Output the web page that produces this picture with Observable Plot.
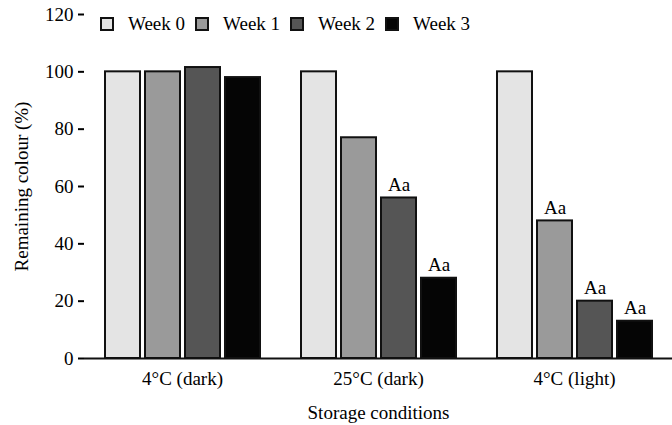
<!DOCTYPE html>
<html><head><meta charset="utf-8">
<script src="https://cdn.jsdelivr.net/npm/d3@7"></script>
<script src="https://cdn.jsdelivr.net/npm/@observablehq/plot@0.6"></script>
<style>
body{margin:0;background:#fff;font-family:"Liberation Serif","Times New Roman",serif;}
#wrap{position:relative;width:672px;height:425px;}
#legend{position:absolute;left:100px;top:14px;display:flex;align-items:center;font-size:19px;color:#000;line-height:19px;}
.item{display:flex;align-items:center;margin-right:10px}
.sw{width:10px;height:10px;border:2px solid #111;margin-right:14px}
</style></head><body><div id="wrap"><div id="legend"></div></div>
<script>
const conditions = ["4°C (dark)", "25°C (dark)", "4°C (light)"];
const weeks = ["Week 0", "Week 1", "Week 2", "Week 3"];
const colours = ["#e4e4e4", "#9a9a9a", "#555555", "#050505"];
const values4Dark = [100, 100, 101.5, 98];
const values25Dark = [100, 77, 56, 28];
const values4Light = [100, 48, 20, 13];
const letters4Dark = ["", "", "", ""];
const letters25Dark = ["", "", "Aa", "Aa"];
const letters4Light = ["", "Aa", "Aa", "Aa"];
const yTicks = [0, 20, 40, 60, 80, 100, 120];

const seriesValues = [values4Dark, values25Dark, values4Light];
const seriesLetters = [letters4Dark, letters25Dark, letters4Light];
const rows = [];
conditions.forEach((c, i) => weeks.forEach((w, j) => rows.push({condition: c, week: w, value: seriesValues[i][j], letter: seriesLetters[i][j]})));

const edges = [{condition: conditions[0], left: true, right: true}, {condition: conditions[1], left: false, right: true}];

const chart = Plot.plot({
  width: 672, height: 425,
  marginLeft: 83, marginRight: 0, marginTop: 14, marginBottom: 67,
  style: {fontFamily: "'Liberation Serif', 'Times New Roman', serif", fontSize: "19px", color: "#000", background: "#fff", overflow: "visible"},
  fx: {domain: conditions, paddingInner: 0, paddingOuter: 0, label: null},
  x: {domain: weeks, paddingInner: 0.125, paddingOuter: 0.5, axis: null},
  y: {domain: [0, 120], label: null},
  color: {domain: weeks, range: colours},
  marks: [
    Plot.barY(rows, {fx: "condition", x: "week", y: "value", fill: "week", stroke: "#111", strokeWidth: 2}),
    Plot.text(rows.filter(d => d.letter), {fx: "condition", x: "week", y: "value", text: "letter", lineAnchor: "bottom", dy: -7, fill: "#000"}),
    Plot.ruleY([0], {stroke: "#111", strokeWidth: 2}),
    Plot.axisY({ticks: yTicks, tickSize: 6, tickPadding: 5, strokeWidth: 2, label: "Remaining colour (%)", labelAnchor: "center", labelArrow: "none", labelOffset: 70}),
    Plot.axisFx({anchor: "bottom", tickSize: 0, tickPadding: 13, label: "Storage conditions", labelAnchor: "center", labelArrow: "none", labelOffset: 60}),
    Plot.dot(edges, {fx: "condition", render: (index, scales) => {
      const g = d3.create("svg:g").attr("stroke", "#111").attr("stroke-width", 2);
      const [x0, x1] = scales.x.range();
      const y0 = scales.y(0), yTop = scales.y(120);
      for (const i of index) {
        const e = edges[i];
        if (e.left) g.append("line").attr("x1", x0).attr("x2", x0).attr("y1", yTop).attr("y2", y0 + 7);
        if (e.right) g.append("line").attr("x1", x1).attr("x2", x1).attr("y1", y0).attr("y2", y0 + 7);
      }
      return g.node();
    }})
  ]
});
document.getElementById("wrap").appendChild(chart);

const legend = d3.select("#legend");
weeks.forEach((w, j) => {
  const it = legend.append("div").attr("class", "item");
  it.append("div").attr("class", "sw").style("background", colours[j]);
  it.append("span").text(w);
});
</script>
</body></html>
